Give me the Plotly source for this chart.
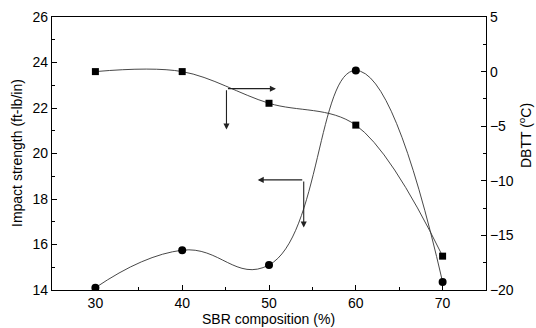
import plotly.graph_objects as go

sbr = [30, 40, 50, 60, 70]
impact_strength = [14.1, 15.75, 15.1, 23.65, 14.35]
dbtt = [0.0, 0.0, -2.9, -4.9, -16.9]

x_ticks = [30, 40, 50, 60, 70]
y_ticks = [14, 16, 18, 20, 22, 24, 26]
y2_ticks = [-20, -15, -10, -5, 0, 5]

font = dict(family="Liberation Sans, Arial, sans-serif", size=14, color="black")

fig = go.Figure()
fig.add_trace(go.Scatter(
    x=sbr, y=impact_strength, mode="lines+markers",
    line=dict(shape="spline", smoothing=1.3, color="#333", width=0.9),
    marker=dict(symbol="circle", size=8, color="black"),
    showlegend=False))
fig.add_trace(go.Scatter(
    x=sbr, y=dbtt, mode="lines+markers", yaxis="y2",
    line=dict(shape="spline", smoothing=1.0, color="#333", width=0.9),
    marker=dict(symbol="square", size=7, color="black"),
    showlegend=False))

# direction arrows (tail at corner, head at end)
arrows = [
    ((45.1, 22.85), (50.8, 22.85)),
    ((45.1, 22.85), (45.1, 21.05)),
    ((54.0, 18.84), (48.7, 18.84)),
    ((54.0, 18.84), (54.0, 16.75)),
]
for (tx, ty), (hx, hy) in arrows:
    fig.add_annotation(x=hx, y=hy, ax=tx, ay=ty, xref="x", yref="y",
                       axref="x", ayref="y", text="", showarrow=True,
                       arrowhead=2, arrowsize=1.1, arrowwidth=1.1,
                       arrowcolor="#222")

# plot area in pixels
W, H = 536, 328
L, R, T, B = 52, 50, 17, 38
PW, PH = W - L - R, H - T - B


def px(xp):
    return (xp - L) / PW


def py(yp):
    return (H - B - yp) / PH


fig.add_annotation(text="Impact strength (ft-lb/in)", textangle=-90,
                   x=px(17), y=py(153), xref="paper", yref="paper",
                   xanchor="center", yanchor="middle", showarrow=False, font=font)
fig.add_annotation(text="DBTT (<sup>o</sup>C)", textangle=-90,
                   x=px(525), y=py(136), xref="paper", yref="paper",
                   xanchor="center", yanchor="middle", showarrow=False, font=font)
fig.add_annotation(text="SBR composition (%)",
                   x=px(268), y=py(319), xref="paper", yref="paper",
                   xanchor="center", yanchor="middle", showarrow=False, font=font)

axis_common = dict(showgrid=False, zeroline=False, showline=True, automargin=False,
                   linecolor="black", linewidth=1.2, ticks="inside",
                   ticklen=5, tickcolor="black", tickfont=font)

fig.update_layout(
    width=W, height=H,
    margin=dict(l=L, r=R, t=T, b=B, autoexpand=False),
    paper_bgcolor="white", plot_bgcolor="white",
    font=font,
    xaxis=dict(range=[25, 75], tickvals=x_ticks, mirror=True,
               minor=dict(dtick=5, tick0=25, ticks="inside", ticklen=3, tickcolor="black"),
               **axis_common),
    yaxis=dict(range=[14, 26], tickvals=y_ticks,
               minor=dict(dtick=1, tick0=14, ticks="inside", ticklen=3, tickcolor="black"),
               **axis_common),
    yaxis2=dict(range=[-20, 5], tickvals=y2_ticks, overlaying="y", side="right",
                minor=dict(dtick=2.5, tick0=-20, ticks="inside", ticklen=3, tickcolor="black"),
                **axis_common),
)

fig.write_html(
    "out.html",
    config={"displayModeBar": False},
    post_script="document.body.style.margin='0px';document.body.style.overflow='hidden';",
)
